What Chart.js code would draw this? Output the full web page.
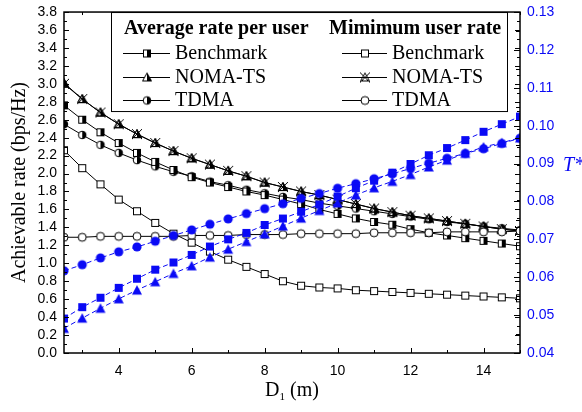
<!DOCTYPE html>
<html>
<head>
<meta charset="utf-8">
<script src="https://cdn.jsdelivr.net/npm/chart.js@4.4.1/dist/chart.umd.min.js"></script>
<style>
  html, body { margin: 0; padding: 0; background: #fff; }
</style>
</head>
<body>
<canvas id="chart" width="582" height="412"></canvas>
<script>
// D1 (m)
const distances = [2.5, 3, 3.5, 4, 4.5, 5, 5.5, 6, 6.5, 7, 7.5, 8, 8.5, 9, 9.5, 10, 10.5, 11, 11.5, 12, 12.5, 13, 13.5, 14, 14.5, 15];

// average rate per user (bps/Hz)
const avgBenchmark = [2.76, 2.60, 2.46, 2.34, 2.23, 2.13, 2.04, 1.96, 1.90, 1.85, 1.80, 1.76, 1.71, 1.66, 1.60, 1.55, 1.50, 1.46, 1.43, 1.38, 1.34, 1.31, 1.28, 1.25, 1.22, 1.19];
const avgNoma = [3.01, 2.83, 2.68, 2.55, 2.44, 2.34, 2.25, 2.17, 2.10, 2.03, 1.97, 1.90, 1.85, 1.80, 1.76, 1.71, 1.66, 1.61, 1.57, 1.53, 1.50, 1.47, 1.44, 1.41, 1.38, 1.36];
const avgTdma = [2.55, 2.43, 2.32, 2.23, 2.15, 2.08, 2.02, 1.97, 1.91, 1.87, 1.82, 1.78, 1.74, 1.71, 1.67, 1.64, 1.61, 1.58, 1.55, 1.52, 1.49, 1.46, 1.44, 1.41, 1.39, 1.37];

// minimum user rate (bps/Hz)
const minBenchmark = [2.26, 2.06, 1.88, 1.71, 1.58, 1.45, 1.33, 1.23, 1.13, 1.04, 0.96, 0.88, 0.80, 0.75, 0.73, 0.72, 0.70, 0.69, 0.68, 0.67, 0.66, 0.65, 0.64, 0.63, 0.62, 0.61];
const minNoma = [3.00, 2.83, 2.68, 2.55, 2.44, 2.34, 2.25, 2.17, 2.10, 2.03, 1.97, 1.90, 1.85, 1.80, 1.76, 1.71, 1.66, 1.61, 1.57, 1.53, 1.50, 1.47, 1.44, 1.41, 1.38, 1.36];
const minTdma = [1.29, 1.29, 1.30, 1.30, 1.30, 1.30, 1.30, 1.31, 1.31, 1.31, 1.32, 1.32, 1.32, 1.33, 1.33, 1.33, 1.33, 1.34, 1.34, 1.34, 1.34, 1.35, 1.35, 1.35, 1.35, 1.36];

// T* (right axis)
const tBenchmark = [0.0491, 0.0521, 0.0546, 0.0572, 0.0596, 0.0620, 0.0639, 0.0659, 0.0681, 0.0700, 0.0717, 0.0738, 0.0755, 0.0773, 0.0792, 0.0813, 0.0835, 0.0855, 0.0876, 0.0899, 0.0922, 0.0941, 0.0962, 0.0984, 0.1004, 0.1024];
const tNoma = [0.0465, 0.0492, 0.0518, 0.0543, 0.0566, 0.0588, 0.0610, 0.0630, 0.0653, 0.0674, 0.0694, 0.0714, 0.0735, 0.0756, 0.0776, 0.0796, 0.0817, 0.0836, 0.0853, 0.0871, 0.0891, 0.0909, 0.0927, 0.0944, 0.0955, 0.0968];
const tTdma = [0.0617, 0.0633, 0.0651, 0.0667, 0.0680, 0.0695, 0.0710, 0.0725, 0.0740, 0.0754, 0.0768, 0.0781, 0.0794, 0.0808, 0.0821, 0.0835, 0.0847, 0.0860, 0.0873, 0.0887, 0.0901, 0.0914, 0.0927, 0.0939, 0.0953, 0.0967];

// tick labels
const xTicks = [4, 6, 8, 10, 12, 14];
const yTicks = [0, 0.2, 0.4, 0.6, 0.8, 1.0, 1.2, 1.4, 1.6, 1.8, 2.0, 2.2, 2.4, 2.6, 2.8, 3.0, 3.2, 3.4, 3.6, 3.8];
const tTicks = [0.04, 0.05, 0.06, 0.07, 0.08, 0.09, 0.10, 0.11, 0.12, 0.13];

const BLUE = '#0a0af5';
const serif = '"Liberation Serif", "Times New Roman", serif';
const sans = '"Liberation Sans", Arial, sans-serif';

function points(ys) {
  return distances.map((x, i) => ({ x: x, y: ys[i] }));
}

// small canvases used as point styles
function marker(size, draw) {
  const c = document.createElement('canvas');
  c.width = size;
  c.height = size;
  const g = c.getContext('2d');
  g.lineWidth = 1;
  draw(g, size / 2);
  return c;
}

const halfSquare = marker(12, (g, c) => {
  g.fillStyle = '#fff'; g.fillRect(2.5, 2.5, 7, 7);
  g.fillStyle = '#000'; g.fillRect(c, 2.5, 3.5, 7);
  g.strokeStyle = '#000'; g.strokeRect(2.5, 2.5, 7, 7);
});
const halfCircle = marker(12, (g, c) => {
  g.beginPath(); g.arc(c, c, 3.8, 0, Math.PI * 2); g.fillStyle = '#fff'; g.fill();
  g.beginPath(); g.arc(c, c, 3.8, -Math.PI / 2, Math.PI / 2); g.closePath(); g.fillStyle = '#000'; g.fill();
  g.beginPath(); g.arc(c, c, 3.8, 0, Math.PI * 2); g.strokeStyle = '#000'; g.stroke();
});
const halfTriangle = marker(12, (g, c) => {
  g.beginPath(); g.moveTo(c, 1.5); g.lineTo(10.5, 9.5); g.lineTo(1.5, 9.5); g.closePath();
  g.fillStyle = '#fff'; g.fill();
  g.beginPath(); g.moveTo(c, 1.5); g.lineTo(10.5, 9.5); g.lineTo(c, 9.5); g.closePath();
  g.fillStyle = '#000'; g.fill();
  g.beginPath(); g.moveTo(c, 1.5); g.lineTo(10.5, 9.5); g.lineTo(1.5, 9.5); g.closePath();
  g.strokeStyle = '#000'; g.stroke();
});
const crossTriangle = marker(14, (g, c) => {
  g.strokeStyle = '#000';
  g.beginPath(); g.moveTo(c, 2.5); g.lineTo(11.5, 10.5); g.lineTo(2.5, 10.5); g.closePath(); g.stroke();
  g.beginPath(); g.moveTo(2, 2); g.lineTo(12, 12); g.moveTo(12, 2); g.lineTo(2, 12); g.stroke();
});
const openSquare = marker(12, (g, c) => {
  g.fillStyle = '#fff'; g.fillRect(2.5, 2.5, 7, 7);
  g.strokeStyle = '#000'; g.strokeRect(2.5, 2.5, 7, 7);
});
const openCircle = marker(12, (g, c) => {
  g.beginPath(); g.arc(c, c, 4, 0, Math.PI * 2);
  g.fillStyle = '#fff'; g.fill(); g.strokeStyle = '#000'; g.stroke();
});
const blueSquare = marker(12, (g, c) => {
  g.fillStyle = BLUE; g.fillRect(2, 2, 8, 8);
});
const blueCircle = marker(12, (g, c) => {
  g.beginPath(); g.arc(c, c, 4.6, 0, Math.PI * 2); g.fillStyle = BLUE; g.fill();
});
const blueTriangle = marker(12, (g, c) => {
  g.beginPath(); g.moveTo(c, 1); g.lineTo(11, 10.5); g.lineTo(1, 10.5); g.closePath();
  g.fillStyle = BLUE; g.fill();
});

function blackLine(label, ys, style) {
  return {
    label: label, data: points(ys), yAxisID: 'y',
    borderColor: '#000', borderWidth: 1, pointStyle: style, pointRadius: 5, order: 2
  };
}
function blueLine(label, ys, style) {
  return {
    label: label, data: points(ys), yAxisID: 'y1',
    borderColor: BLUE, borderWidth: 1, borderDash: [5, 3], pointStyle: style, pointRadius: 5, order: 1
  };
}

// frame, inward ticks, titles and the two-column legend
const decorations = {
  id: 'decorations',
  afterDraw(chart) {
    const ctx = chart.ctx;
    const { left, right, top, bottom } = chart.chartArea;
    const sx = chart.scales.x, sy = chart.scales.y, st = chart.scales.y1;
    ctx.save();
    ctx.strokeStyle = '#000';
    ctx.lineWidth = 1;

    // x ticks, bottom and top
    for (let v = 3; v <= 15; v += 1) {
      const px = Math.round(sx.getPixelForValue(v)) + 0.5;
      const len = v % 2 === 0 ? 5 : 3;
      ctx.beginPath();
      ctx.moveTo(px, bottom); ctx.lineTo(px, bottom - len);
      ctx.moveTo(px, top); ctx.lineTo(px, top + len);
      ctx.stroke();
    }
    // left axis ticks (also mirrored on the right)
    for (let i = 0; i <= 38; i++) {
      const py = Math.round(sy.getPixelForValue(i / 10)) + 0.5;
      const len = i % 2 === 0 ? 5 : 3;
      ctx.beginPath();
      ctx.moveTo(left, py); ctx.lineTo(left + len, py);
      ctx.moveTo(right, py); ctx.lineTo(right - len, py);
      ctx.stroke();
    }
    // right axis ticks
    for (let i = 0; i <= 18; i++) {
      const py = Math.round(st.getPixelForValue(0.04 + i * 0.005)) + 0.5;
      const len = i % 2 === 0 ? 6 : 4;
      ctx.beginPath();
      ctx.moveTo(right, py); ctx.lineTo(right - len, py);
      ctx.stroke();
    }

    // legend box
    const lx = 111.5, ly = top + 0.5, lw = 396, lh = 99;
    ctx.fillStyle = '#fff';
    ctx.fillRect(lx, ly, lw, lh);
    ctx.strokeRect(lx, ly, lw, lh);
    ctx.fillStyle = '#000';
    ctx.textBaseline = 'middle';
    ctx.textAlign = 'left';
    ctx.font = 'bold 20px ' + serif;
    ctx.fillText('Average rate per user', 124, 29);
    ctx.fillText('Mimimum user rate', 329, 29);
    const rows = [
      ['Benchmark', halfSquare, openSquare, 53],
      ['NOMA-TS', halfTriangle, crossTriangle, 77],
      ['TDMA', halfCircle, openCircle, 100]
    ];
    ctx.font = '20px ' + serif;
    rows.forEach(([name, m1, m2, y]) => {
      const py = y + 0.5;
      ctx.beginPath();
      ctx.moveTo(123, py); ctx.lineTo(170, py);
      ctx.moveTo(342, py); ctx.lineTo(387, py);
      ctx.stroke();
      ctx.drawImage(m1, 147 - m1.width / 2, y - m1.height / 2 + 0.5);
      ctx.drawImage(m2, 365 - m2.width / 2, y - m2.height / 2 + 0.5);
      ctx.fillText(name, 175, y + 1);
      ctx.fillText(name, 392, y + 1);
    });

    // frame
    ctx.lineWidth = 1.5;
    ctx.strokeRect(left, top, right - left, bottom - top);

    // axis titles
    ctx.fillStyle = '#000';
    ctx.font = '20px ' + serif;
    ctx.save();
    ctx.translate(20, (top + bottom) / 2);
    ctx.rotate(-Math.PI / 2);
    ctx.textAlign = 'center';
    ctx.fillText('Achievable rate (bps/Hz)', 0, 0);
    ctx.restore();

    const cx = (left + right) / 2;
    const base = 396;
    ctx.textAlign = 'left';
    ctx.textBaseline = 'alphabetic';
    ctx.font = '20px ' + serif;
    const wD = ctx.measureText('D').width;
    const wM = ctx.measureText(' (m)').width;
    ctx.font = '11px ' + serif;
    const w1 = ctx.measureText('1').width;
    let x0 = cx - (wD + w1 + wM) / 2;
    ctx.font = '20px ' + serif;
    ctx.fillText('D', x0, base);
    ctx.font = '11px ' + serif;
    ctx.fillText('1', x0 + wD, base + 4);
    ctx.font = '20px ' + serif;
    ctx.fillText(' (m)', x0 + wD + w1, base);

    ctx.fillStyle = BLUE;
    ctx.font = 'italic 20px ' + serif;
    ctx.textBaseline = 'middle';
    ctx.fillText('T*', 563, 166);
    ctx.restore();
  }
};

new Chart(document.getElementById('chart'), {
  type: 'line',
  data: {
    datasets: [
      blueLine('T* Benchmark', tBenchmark, blueSquare),
      blueLine('T* NOMA-TS', tNoma, blueTriangle),
      blueLine('T* TDMA', tTdma, blueCircle),
      blackLine('Min Benchmark', minBenchmark, openSquare),
      blackLine('Min TDMA', minTdma, openCircle),
      blackLine('Min NOMA-TS', minNoma, crossTriangle),
      blackLine('Avg NOMA-TS', avgNoma, halfTriangle),
      blackLine('Avg Benchmark', avgBenchmark, halfSquare),
      blackLine('Avg TDMA', avgTdma, halfCircle)
    ]
  },
  options: {
    responsive: false,
    animation: false,
    layout: { padding: { top: 0, left: 0, right: 0, bottom: 0 } },
    plugins: { legend: { display: false }, tooltip: { enabled: false } },
    scales: {
      x: {
        type: 'linear', min: 2.5, max: 15,
        grid: { display: false, drawTicks: false },
        border: { display: false },
        ticks: { color: '#000', font: { family: sans, size: 14 }, padding: 10, maxRotation: 0, autoSkip: false },
        afterBuildTicks: s => { s.ticks = xTicks.map(v => ({ value: v })); },
        afterFit: s => { s.height = 59; }
      },
      y: {
        position: 'left', min: 0, max: 3.8,
        grid: { display: false, drawTicks: false },
        border: { display: false },
        ticks: { color: '#000', font: { family: sans, size: 14, lineHeight: 0.72 }, padding: 7, autoSkip: false, callback: v => v.toFixed(1) },
        afterBuildTicks: s => { s.ticks = yTicks.map(v => ({ value: v })); },
        afterFit: s => { s.width = 64; }
      },
      y1: {
        position: 'right', min: 0.04, max: 0.13,
        grid: { display: false, drawTicks: false },
        border: { display: false },
        ticks: { color: BLUE, font: { family: sans, size: 14, lineHeight: 0.72 }, padding: 7, autoSkip: false, callback: v => v.toFixed(2) },
        afterBuildTicks: s => { s.ticks = tTicks.map(v => ({ value: v })); },
        afterFit: s => { s.width = 62; }
      }
    }
  },
  plugins: [decorations]
});
</script>
</body>
</html>
